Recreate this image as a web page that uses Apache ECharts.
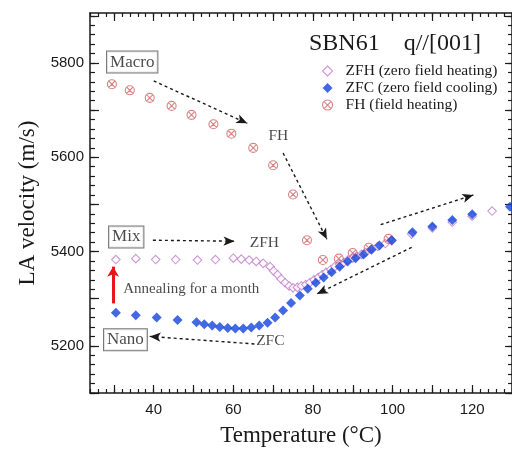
<!DOCTYPE html>
<html>
<head>
<meta charset="utf-8">
<script src="https://cdn.jsdelivr.net/npm/echarts@6/dist/echarts.min.js"></script>
<style>
  html, body { margin: 0; padding: 0; background: #fff; }
  #chart { width: 512px; height: 452px; }
</style>
</head>
<body>
<div id="chart"></div>
<script>
// LA velocity of SBN61 along [001] versus temperature, three thermal protocols.

// FH (field heating)
const fhTemp = [29.5, 34, 39, 44.5, 49.5, 55, 59.5, 65, 70, 75, 78.5, 82.5, 86.5, 90, 94, 99];
const fhVel  = [5755, 5742, 5726, 5709, 5690, 5670, 5650, 5620, 5583, 5521, 5424, 5382, 5385, 5397, 5408, 5427];

// ZFH (zero field heating)
const zfhTemp = [30.5, 35.5, 40.5, 45.5, 51, 55.5, 60, 62, 64, 65.75, 67.5, 69.25, 70.1, 71.1, 72, 73,
                 74, 75, 76.1, 77.1, 78.2, 79.2, 80.25, 81.3, 82.3, 83.3, 84.5, 85.5, 86.7, 87.75, 88.8,
                 90, 91, 92.2, 93.25, 94.8, 96.3, 98.2, 99.8, 104.8, 110, 115, 120, 125];
const zfhVel  = [5383, 5385, 5383, 5383, 5382, 5383, 5386, 5384, 5382, 5379, 5375, 5368, 5359, 5351, 5342, 5334,
                 5327, 5323, 5324, 5327, 5330, 5334, 5340, 5345, 5351, 5356, 5362, 5368, 5373, 5377, 5382,
                 5386, 5390, 5394, 5398, 5406, 5411, 5417, 5423, 5437, 5450, 5462, 5475, 5486];

// ZFC (zero field cooling)
const zfcTemp = [30.5, 35.5, 40.75, 46, 50.75, 52.7, 54.7, 56.6, 58.6, 60.5, 62.5, 64.5, 66.5, 68.6, 70.5,
                 72.5, 74.5, 76.7, 78.7, 80.7, 82.7, 84.7, 86.7, 88.7, 90.7, 92.7, 94.7, 96.7, 99.8, 105,
                 110, 115, 120, 129.5];
const zfcVel  = [5270, 5265, 5260, 5255, 5250, 5246, 5243, 5240, 5238, 5237, 5237, 5239, 5243, 5249, 5260,
                 5275, 5291, 5307, 5321, 5334, 5345, 5356, 5368, 5379, 5386, 5394, 5404, 5413, 5424, 5441,
                 5453, 5467, 5479, 5495];

// Axis ranges and labelled ticks
const xRange = [24, 130];
const yRange = [5100, 5906];
const xTickLabels = [40, 60, 80, 100, 120];
const yTickLabels = [5200, 5400, 5600, 5800];

const seriesNames = ['ZFH (zero field heating)', 'ZFC (zero field cooling)', 'FH (field heating)'];

function steps(from, to, step) {
  const out = [];
  for (let v = from; v <= to + 1e-9; v += step) out.push(v);
  return out;
}
const zip = (a, b) => a.map((v, i) => [v, b[i]]);

const SERIF = 'Liberation Serif';
const SANS = 'Liberation Sans';
const INK = '#1a1a1a';

// circle with a diagonal cross (⊗)
const crossCircle = 'path://M0,10A10,10 0 1,1 20,10A10,10 0 1,1 0,10Z M2.93,2.93L17.07,17.07 M17.07,2.93L2.93,17.07';

function xAxisDef(position, ticks, len, withLine, withLabels) {
  return {
    type: 'value', position, min: xRange[0], max: xRange[1], gridIndex: 0,
    splitLine: { show: false },
    axisLine: { show: withLine, onZero: false, lineStyle: { color: INK, width: 1.5 } },
    axisTick: { show: true, inside: true, length: len, customValues: ticks, lineStyle: { color: INK, width: 1.2 } },
    axisLabel: withLabels
      ? { show: true, customValues: xTickLabels, margin: 9, color: INK, fontFamily: SANS, fontSize: 15,
          formatter: v => String(v) }
      : { show: false },
    name: withLabels ? 'Temperature (\u00B0C)' : '',
    nameLocation: 'middle', nameGap: 31,
    nameTextStyle: { fontFamily: SERIF, fontSize: 23, color: INK }
  };
}
function yAxisDef(position, ticks, len, withLine, withLabels) {
  return {
    type: 'value', position, min: yRange[0], max: yRange[1], gridIndex: 0,
    splitLine: { show: false },
    axisLine: { show: withLine, onZero: false, lineStyle: { color: INK, width: 1.5 } },
    axisTick: { show: true, inside: true, length: len, customValues: ticks, lineStyle: { color: INK, width: 1.2 } },
    axisLabel: withLabels
      ? { show: true, customValues: yTickLabels, margin: 6, color: INK, fontFamily: SANS, fontSize: 15,
          formatter: v => String(v) }
      : { show: false },
    name: withLabels ? 'LA velocity (m/s)' : '',
    nameLocation: 'middle', nameGap: 46, nameRotate: 90,
    nameTextStyle: { fontFamily: SERIF, fontSize: 23, color: INK }
  };
}

const xMajor = steps(30, 130, 10), xMinor = steps(24, 130, 2);
const yMajor = steps(5100, 5900, 100), yMinor = steps(5100, 5900, 20);

// boxed and plain annotation texts, placed in data coordinates
const boxed = { borderColor: '#555', borderWidth: 1, padding: [3, 3, 1, 3], backgroundColor: '#fff' };
const notes = [
  { value: [34.6, 5802], label: Object.assign({ formatter: 'Macro', fontSize: 17 }, boxed) },
  { value: [33.1, 5431], label: Object.assign({ formatter: 'Mix', fontSize: 17 }, boxed) },
  { value: [32.9, 5213], label: Object.assign({ formatter: 'Nano', fontSize: 17 }, boxed) },
  { value: [71.3, 5646], label: { formatter: 'FH', fontSize: 15.5 } },
  { value: [67.8, 5418], label: { formatter: 'ZFH', fontSize: 15.5 } },
  { value: [69.3, 5210], label: { formatter: 'ZFC', fontSize: 15.5 } },
  { value: [32.2, 5321], label: { formatter: 'Annealing for a month', fontSize: 15, position: 'right', distance: 0 } }
];

const dotted = { color: INK, type: [3, 3], width: 1.4 };
const arrows = [
  [[40, 5762], [63.5, 5672]],
  [[72.5, 5609], [83.5, 5426]],
  [[39.8, 5424], [60.3, 5422]],
  [[65.3, 5204], [39, 5220]],
  [[104.8, 5409], [81, 5310]],
  [[97, 5457], [120.3, 5520]]
].map(([a, b]) => [{ coord: a }, { coord: b }]);
arrows.push([
  { coord: [29.8, 5290], lineStyle: { color: '#e8161b', type: 'solid', width: 3 } },
  { coord: [29.8, 5368], symbolSize: [9, 10] }
]);

const chart = echarts.init(document.getElementById('chart'), null, { renderer: 'canvas' });
chart.setOption({
  animation: false,
  backgroundColor: '#fff',
  grid: { left: 90, top: 13, right: -2, bottom: 55, containLabel: false },
  title: {
    text: 'SBN61    q//[001]', left: 309, top: 32, padding: 0,
    textStyle: { fontFamily: SERIF, fontSize: 24, fontWeight: 'normal', color: INK }
  },
  legend: {
    data: [
      { name: seriesNames[0], itemStyle: { borderWidth: 1.1 } },
      { name: seriesNames[1] },
      { name: seriesNames[2], itemStyle: { borderWidth: 1.1 } }
    ],
    orient: 'vertical', left: 322, top: 63, padding: 0,
    itemWidth: 10, itemHeight: 10, itemGap: 1, selectedMode: false,
    textStyle: { fontFamily: SERIF, fontSize: 15.5, color: INK, padding: [0, 0, 0, 8] }
  },
  xAxis: [
    xAxisDef('bottom', xMajor, 8, true, true),
    xAxisDef('bottom', xMinor, 4, false, false),
    xAxisDef('top', xMajor, 8, true, false),
    xAxisDef('top', xMinor, 4, false, false)
  ],
  yAxis: [
    yAxisDef('left', yMajor, 9, true, true),
    yAxisDef('left', yMinor, 5, false, false),
    yAxisDef('right', yMajor, 7, true, false),
    yAxisDef('right', yMinor, 4, false, false)
  ],
  series: [
    {
      name: seriesNames[0], type: 'scatter', data: zip(zfhTemp, zfhVel),
      symbol: 'diamond', symbolSize: 8.5,
      itemStyle: { color: '#ffffff', borderColor: '#c27ccc', borderWidth: 1.1 }
    },
    {
      name: seriesNames[2], type: 'scatter', data: zip(fhTemp, fhVel),
      symbol: crossCircle, symbolSize: 9,
      itemStyle: { color: 'rgba(255,255,255,0)', borderColor: '#cf6464', borderWidth: 1.1 }
    },
    {
      name: seriesNames[1], type: 'scatter', data: zip(zfcTemp, zfcVel),
      symbol: 'diamond', symbolSize: 10,
      itemStyle: { color: '#1343dc' }
    },
    {
      name: 'notes', type: 'scatter', data: notes, symbolSize: 1, silent: true, z: 5,
      itemStyle: { color: 'rgba(0,0,0,0)' },
      label: { show: true, position: 'inside', color: INK, fontFamily: SERIF },
      markLine: {
        silent: true, symbol: ['none', 'arrow'], symbolSize: [7, 11],
        label: { show: false }, lineStyle: dotted, animation: false,
        data: arrows
      }
    }
  ]
});
</script>
</body>
</html>
